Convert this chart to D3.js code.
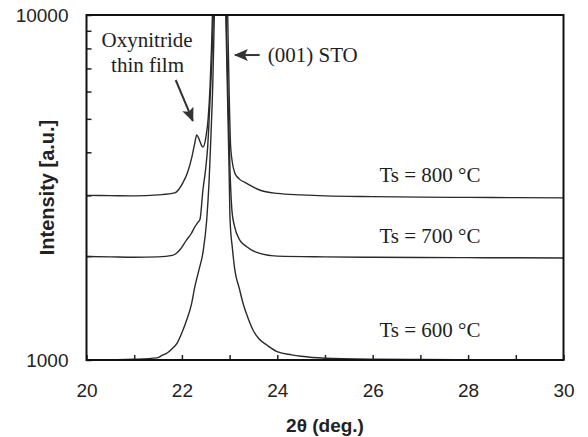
<!DOCTYPE html>
<html>
<head>
<meta charset="utf-8">
<script src="https://cdn.jsdelivr.net/npm/d3@7"></script>
<style>
  body { margin: 0; background: #fff; }
  .tick text { font-family: "Liberation Sans", Arial, sans-serif; font-size: 19px; fill: #222; }
  .tick line { stroke: #222; stroke-width: 1.5; }
  .note { font-family: "Liberation Serif", "Times New Roman", serif; font-size: 21px; fill: #1e1e1e; }
</style>
</head>
<body>
<div id="chart"></div>
<script>
// 2theta (deg.) / intensity, one list per growth temperature
const ts800 = [
  [20, 3000], [20.5, 2995], [21, 2990], [21.5, 3010], [21.85, 3050], [22.02, 3260],
  [22.12, 3500], [22.21, 3880], [22.27, 4250], [22.31, 4490], [22.35, 4400], [22.38, 4290],
  [22.44, 4140], [22.5, 4400], [22.55, 5000], [22.59, 6200], [22.62, 8000], [22.64, 10000],
  [22.8, 40000], [22.96, 10000], [22.99, 6000], [23.02, 4200], [23.05, 3800], [23.11, 3480],
  [23.2, 3350], [23.36, 3250], [23.5, 3170], [23.63, 3110], [24.0, 3040], [24.5, 3010],
  [25, 2990], [26, 2975], [27, 2965], [28, 2960], [29, 2955], [30, 2950]
];
const ts700 = [
  [20, 1995], [20.5, 1990], [21, 1985], [21.5, 1990], [21.8, 2010], [21.95, 2080],
  [22.1, 2230], [22.2, 2330], [22.27, 2430], [22.33, 2500], [22.38, 2560], [22.44, 3100],
  [22.5, 3600], [22.54, 4140], [22.59, 5670], [22.63, 7500], [22.66, 10000],
  [22.8, 40000], [22.93, 10000], [22.97, 5500], [23.01, 3500], [23.05, 2700], [23.1, 2450],
  [23.21, 2230], [23.36, 2130], [23.57, 2050], [24.0, 2000], [25, 1990], [26, 1985],
  [27, 1982], [28, 1980], [29, 1978], [30, 1975]
];
const ts600 = [
  [20, 1000], [20.5, 1002], [21, 1005], [21.48, 1014], [21.6, 1034], [21.69, 1048],
  [21.8, 1080], [21.9, 1120], [22.0, 1200], [22.1, 1306], [22.2, 1450], [22.27, 1628],
  [22.36, 1830], [22.44, 2043], [22.52, 2545], [22.57, 3300], [22.61, 4500], [22.65, 6500],
  [22.68, 10000], [22.8, 40000], [22.92, 10000], [22.96, 5500], [22.99, 3500], [23.01, 2545],
  [23.06, 2100], [23.11, 1823], [23.2, 1620], [23.28, 1463], [23.38, 1330], [23.49, 1222],
  [23.62, 1150], [23.78, 1105], [24.01, 1055], [24.3, 1035], [24.5, 1025], [25, 1012],
  [26, 1005], [27, 1003], [28, 1002], [29, 1001], [30, 1000]
];
const series = [ts800, ts700, ts600];
const tempLabels = ['Ts = 800 °C', 'Ts = 700 °C', 'Ts = 600 °C'];
const tempLabelAt = [[26.14, 3283], [26.14, 2183], [26.14, 1164]];
const xTicks = d3.range(20, 31, 1);
const yTicks = [1000, 2000, 3000, 4000, 5000, 6000, 7000, 8000, 9000, 10000];

const margin = { left: 86.5, right: 24.5, top: 15, bottom: 77 };
const width = 588, height = 437;
const w = width - margin.left - margin.right;
const h = height - margin.top - margin.bottom;

const x = d3.scaleLinear().domain([20, 30]).range([0, w]);
const y = d3.scaleLog().domain([1000, 10000]).range([h, 0]);

const svg = d3.select('#chart').append('svg')
  .attr('width', width)
  .attr('height', height);

const g = svg.append('g')
  .attr('transform', 'translate(' + margin.left + ',' + margin.top + ')');

const defs = svg.append('defs');
defs.append('clipPath').attr('id', 'plot')
  .append('rect').attr('width', w).attr('height', h);

defs.append('marker')
  .attr('id', 'head')
  .attr('viewBox', '0 0 14 12')
  .attr('refX', 13).attr('refY', 6)
  .attr('markerWidth', 7).attr('markerHeight', 6)
  .attr('markerUnits', 'strokeWidth')
  .attr('orient', 'auto')
  .append('path').attr('d', 'M0,0L14,6L0,12L3,6z').attr('fill', '#333');

const xAxis = d3.axisBottom(x)
  .tickValues(xTicks)
  .tickSizeInner(-5).tickSizeOuter(0)
  .tickPadding(24)
  .tickFormat(d => d % 2 === 0 ? d : '');

const yAxis = d3.axisLeft(y)
  .tickValues(yTicks)
  .tickSizeInner(-5).tickSizeOuter(0)
  .tickPadding(18)
  .tickFormat(d => (d === 1000 || d === 10000) ? d : '');

g.append('g')
  .attr('class', 'x-axis')
  .attr('transform', 'translate(0,' + h + ')')
  .call(xAxis)
  .call(s => s.select('.domain').remove());

g.append('g')
  .attr('class', 'y-axis')
  .call(yAxis)
  .call(s => s.select('.domain').remove());

const line = d3.line()
  .x(d => x(d[0]))
  .y(d => y(d[1]))
  .curve(d3.curveMonotoneX);

g.append('g')
  .attr('clip-path', 'url(#plot)')
  .selectAll('path')
  .data(series)
  .enter().append('path')
    .attr('d', line)
    .attr('fill', 'none')
    .attr('stroke', '#2a2a2a')
    .attr('stroke-width', 1.4)
    .attr('stroke-linejoin', 'round');

g.append('rect')
  .attr('width', w).attr('height', h)
  .attr('fill', 'none')
  .attr('stroke', '#111')
  .attr('stroke-width', 2);

// annotations
g.selectAll('.temp')
  .data(tempLabels)
  .enter().append('text')
    .attr('class', 'note temp')
    .attr('x', (d, i) => x(tempLabelAt[i][0]))
    .attr('y', (d, i) => y(tempLabelAt[i][1]))
    .text(d => d);

g.append('text').attr('class', 'note')
  .attr('x', x(21.27)).attr('y', y(8080))
  .attr('text-anchor', 'middle')
  .text('Oxynitride');
g.append('text').attr('class', 'note')
  .attr('x', x(21.28)).attr('y', y(6836))
  .attr('text-anchor', 'middle')
  .text('thin film');

g.append('line')
  .attr('x1', x(21.87)).attr('y1', y(6480))
  .attr('x2', x(22.23)).attr('y2', y(4930))
  .attr('stroke', '#333').attr('stroke-width', 2)
  .attr('marker-end', 'url(#head)');

g.append('line')
  .attr('x1', x(23.63)).attr('y1', y(7655))
  .attr('x2', x(23.11)).attr('y2', y(7655))
  .attr('stroke', '#333').attr('stroke-width', 2)
  .attr('marker-end', 'url(#head)');

g.append('text').attr('class', 'note')
  .attr('x', x(23.80)).attr('y', y(7300))
  .text('(001) STO');

// axis titles
svg.append('text')
  .attr('x', margin.left + x(25)).attr('y', 432)
  .attr('text-anchor', 'middle')
  .style('font-family', '"Liberation Sans", Arial, sans-serif')
  .style('font-size', '19px').style('font-weight', 'bold').style('fill', '#222')
  .text('2θ (deg.)');

svg.append('text')
  .attr('transform', 'translate(54,' + (margin.top + h / 2) + ') rotate(-90)')
  .attr('text-anchor', 'middle')
  .style('font-family', '"Liberation Sans", Arial, sans-serif')
  .style('font-size', '20px').style('font-weight', 'bold').style('fill', '#222')
  .text('Intensity [a.u.]');
</script>
</body>
</html>
